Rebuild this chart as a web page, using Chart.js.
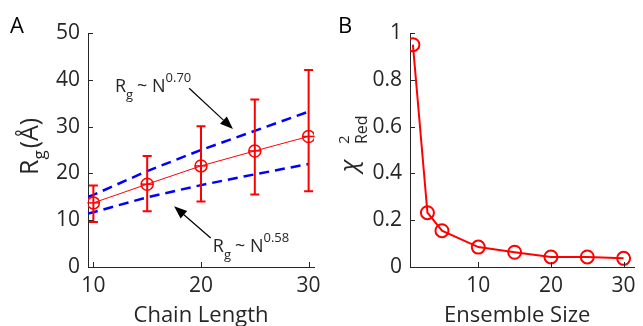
<!DOCTYPE html>
<html>
<head>
<meta charset="utf-8">
<script src="https://cdn.jsdelivr.net/npm/chart.js@4"></script>
<style>
html,body{margin:0;padding:0;background:#fff;overflow:hidden}
#wrap{position:relative;width:643px;height:326px}
canvas{position:absolute;top:0}
</style>
</head>
<body>
<div id="wrap">
<canvas id="graficoA" width="330" height="326" style="left:0"></canvas>
<canvas id="graficoB" width="313" height="326" style="left:330px"></canvas>
</div>
<script>
// Painel A - Rg vs comprimento da cadeia
const chainLength = [10, 15, 20, 25, 30];
const rgMedia = [13.7, 17.7, 21.6, 24.8, 27.9];
const rgSup = [17.4, 23.7, 30.1, 35.8, 42.1];
const rgInf = [9.6, 11.9, 14.0, 15.5, 16.2];
const ajusteX = [9.5, 10, 15, 20, 25, 30];
const ajuste070 = [15.0, 15.4, 20.5, 25.0, 29.1, 33.2];
const ajuste058 = [11.4, 11.7, 14.9, 17.5, 19.8, 22.0];
const ticksAx = [10, 20, 30];
const ticksAy = [0, 10, 20, 30, 40, 50];

// Painel B - chi2 reduzido vs tamanho do ensemble
const ensembleSize = [1, 3, 5, 10, 15, 20, 25, 30];
const chi2Red = [0.95, 0.232, 0.155, 0.085, 0.063, 0.043, 0.043, 0.037];
const ticksBx = [10, 20, 30];
const ticksBy = [0, 0.2, 0.4, 0.6, 0.8, 1];

const FONTE = '"Open Sans", "Noto Sans", sans-serif';
const CINZA = '#262626';
const VERMELHO = '#ff0000';
const AZUL = '#0000ff';

Chart.defaults.font.family = FONTE;
Chart.defaults.color = CINZA;

function pontos(xs, ys){
    return xs.map((x, i) => ({x: x, y: ys[i]}));
}

function textoRico(ctx, x, y, partes, angulo){
    ctx.save();
    ctx.translate(x, y);
    if (angulo) ctx.rotate(angulo);
    ctx.fillStyle = CINZA;
    ctx.textBaseline = 'alphabetic';
    let cx = 0;
    partes.forEach(p => {
        ctx.font = (p.estilo || '') + ' ' + p.tam + 'px ' + FONTE;
        ctx.fillText(p.t, cx, p.dy || 0);
        cx += ctx.measureText(p.t).width + (p.esp || 0);
    });
    ctx.restore();
}

function seta(ctx, x0, y0, x1, y1){
    const ang = Math.atan2(y1 - y0, x1 - x0);
    const L = 13, W = 5;
    ctx.save();
    ctx.strokeStyle = '#000';
    ctx.fillStyle = '#000';
    ctx.lineWidth = 1.2;
    ctx.beginPath();
    ctx.moveTo(x0, y0);
    ctx.lineTo(x1 - L * Math.cos(ang), y1 - L * Math.sin(ang));
    ctx.stroke();
    ctx.beginPath();
    ctx.moveTo(x1, y1);
    ctx.lineTo(x1 - L * Math.cos(ang) + W * Math.sin(ang), y1 - L * Math.sin(ang) - W * Math.cos(ang));
    ctx.lineTo(x1 - L * Math.cos(ang) - W * Math.sin(ang), y1 - L * Math.sin(ang) + W * Math.cos(ang));
    ctx.closePath();
    ctx.fill();
    ctx.restore();
}

// ticks para dentro, estilo MATLAB
const pluginTicks = {
    id: 'ticksDentro',
    afterDraw(chart){
        const ctx = chart.ctx;
        const a = chart.chartArea;
        const sx = chart.scales.x, sy = chart.scales.y;
        ctx.save();
        ctx.strokeStyle = CINZA;
        ctx.lineWidth = 1;
        ctx.beginPath();
        sx.ticks.forEach(t => {
            const px = Math.round(sx.getPixelForValue(t.value)) + 0.5;
            ctx.moveTo(px, a.bottom);
            ctx.lineTo(px, a.bottom - 5);
        });
        sy.ticks.forEach(t => {
            const py = Math.round(sy.getPixelForValue(t.value)) + 0.5;
            ctx.moveTo(a.left, py);
            ctx.lineTo(a.left + 5, py);
        });
        ctx.stroke();
        ctx.restore();
    }
};

function opcoesEixos(xMin, xMax, yMin, yMax, ticksX, ticksY, larguraY, dirPad){
    return {
        responsive: false,
        animation: false,
        devicePixelRatio: 1,
        layout: {padding: {top: 33, right: dirPad, left: 0, bottom: 0}},
        plugins: {legend: {display: false}, tooltip: {enabled: false}},
        scales: {
            x: {
                type: 'linear',
                min: xMin, max: xMax,
                afterBuildTicks: s => { s.ticks = ticksX.map(v => ({value: v})); },
                afterFit: s => { s.height = 59; },
                grid: {display: false, drawTicks: false},
                border: {color: CINZA, width: 1},
                ticks: {font: {size: 21}, color: CINZA, padding: 6, maxRotation: 0,
                        callback: v => String(v)}
            },
            y: {
                type: 'linear',
                min: yMin, max: yMax,
                afterBuildTicks: s => { s.ticks = ticksY.map(v => ({value: v})); },
                afterFit: s => { s.width = larguraY; },
                grid: {display: false, drawTicks: false},
                border: {color: CINZA, width: 1},
                ticks: {font: {size: 21}, color: CINZA, padding: 8,
                        callback: v => String(v)}
            }
        }
    };
}

// Painel A
const pluginA = {
    id: 'extrasA',
    afterDatasetsDraw(chart){
        const ctx = chart.ctx;
        const sx = chart.scales.x, sy = chart.scales.y;
        // barras de erro (com o traço horizontal dentro do marcador)
        ctx.save();
        ctx.strokeStyle = VERMELHO;
        chainLength.forEach((n, i) => {
            const px = sx.getPixelForValue(n);
            const pt = sy.getPixelForValue(rgSup[i]);
            const pb = sy.getPixelForValue(rgInf[i]);
            const pm = sy.getPixelForValue(rgMedia[i]);
            ctx.lineWidth = 2;
            ctx.beginPath();
            ctx.moveTo(px, pt); ctx.lineTo(px, pb);
            ctx.moveTo(px - 4.5, pt); ctx.lineTo(px + 4.5, pt);
            ctx.moveTo(px - 4.5, pb); ctx.lineTo(px + 4.5, pb);
            ctx.stroke();
            ctx.lineWidth = 1.5;
            ctx.beginPath();
            ctx.moveTo(px - 6, pm); ctx.lineTo(px + 6, pm);
            ctx.stroke();
        });
        ctx.restore();
    },
    afterDraw(chart){
        const ctx = chart.ctx;
        const a = chart.chartArea;
        const sx = chart.scales.x, sy = chart.scales.y;
        // setas e anotacoes
        seta(ctx, sx.getPixelForValue(18.9), sy.getPixelForValue(38.2), sx.getPixelForValue(22.97), sy.getPixelForValue(29.5));
        seta(ctx, sx.getPixelForValue(20.9), sy.getPixelForValue(6.2), sx.getPixelForValue(17.5), sy.getPixelForValue(13.0));
        textoRico(ctx, sx.getPixelForValue(12.0), sy.getPixelForValue(37.5), [
            {t: 'R', tam: 18}, {t: 'g', tam: 13, dy: 7, esp: 4}, {t: '~ ', tam: 18}, {t: 'N', tam: 18}, {t: '0.70', tam: 13, dy: -10}
        ]);
        textoRico(ctx, sx.getPixelForValue(21.1), sy.getPixelForValue(3.2), [
            {t: 'R', tam: 18}, {t: 'g', tam: 13, dy: 7, esp: 4}, {t: '~ ', tam: 18}, {t: 'N', tam: 18}, {t: '0.58', tam: 13, dy: -10}
        ]);
        // titulo eixo y
        textoRico(ctx, 38, 175, [
            {t: 'R', tam: 25}, {t: 'g', tam: 17, dy: 7, esp: 2}, {t: '(Å)', tam: 25}
        ], -Math.PI / 2);
        // titulo eixo x
        ctx.save();
        ctx.fillStyle = CINZA;
        ctx.font = '22px ' + FONTE;
        ctx.textAlign = 'center';
        ctx.fillText('Chain Length', (a.left + a.right) / 2, 322);
        ctx.textAlign = 'left';
        ctx.fillStyle = '#000';
        ctx.fillText('A', 10, 33);
        ctx.restore();
    }
};

new Chart(
    document.getElementById('graficoA'),
    {
        type: 'line',
        data: {
            datasets: [{
                data: pontos(chainLength, rgMedia),
                borderColor: VERMELHO,
                borderWidth: 1,
                pointRadius: 6,
                pointBorderWidth: 1.5,
                pointBorderColor: VERMELHO,
                pointBackgroundColor: 'rgba(0,0,0,0)'
            }, {
                data: pontos(ajusteX, ajuste070),
                borderColor: AZUL,
                borderWidth: 2.5,
                borderDash: [10, 6],
                pointRadius: 0
            }, {
                data: pontos(ajusteX, ajuste058),
                borderColor: AZUL,
                borderWidth: 2.5,
                borderDash: [10, 6],
                pointRadius: 0
            }]
        },
        options: opcoesEixos(9.5, 30.5, 0, 50, ticksAx, ticksAy, 88, 16),
        plugins: [pluginTicks, pluginA]
    }
);

// Painel B
const pluginB = {
    id: 'extrasB',
    afterDraw(chart){
        const ctx = chart.ctx;
        const a = chart.chartArea;
        // titulo eixo y: chi^2_Red
        textoRico(ctx, 27, 172, [{t: 'χ', tam: 24, estilo: 'italic'}], -Math.PI / 2);
        textoRico(ctx, 19, 144, [{t: '2', tam: 15}], -Math.PI / 2);
        textoRico(ctx, 37, 144, [{t: 'Red', tam: 16}], -Math.PI / 2);
        ctx.save();
        ctx.fillStyle = CINZA;
        ctx.font = '22px ' + FONTE;
        ctx.textAlign = 'center';
        ctx.fillText('Ensemble Size', (a.left + a.right) / 2 - 5, 322);
        ctx.textAlign = 'left';
        ctx.fillStyle = '#000';
        ctx.fillText('B', 8, 33);
        ctx.restore();
    }
};

new Chart(
    document.getElementById('graficoB'),
    {
        type: 'line',
        data: {
            datasets: [{
                data: pontos(ensembleSize, chi2Red),
                borderColor: VERMELHO,
                borderWidth: 2,
                pointRadius: 6.5,
                pointBorderWidth: 2,
                pointBorderColor: VERMELHO,
                pointBackgroundColor: 'rgba(0,0,0,0)'
            }]
        },
        options: opcoesEixos(0.6, 31.5, 0, 1, ticksBx, ticksBy, 80, 0),
        plugins: [pluginTicks, pluginB]
    }
);
</script>
</body>
</html>
